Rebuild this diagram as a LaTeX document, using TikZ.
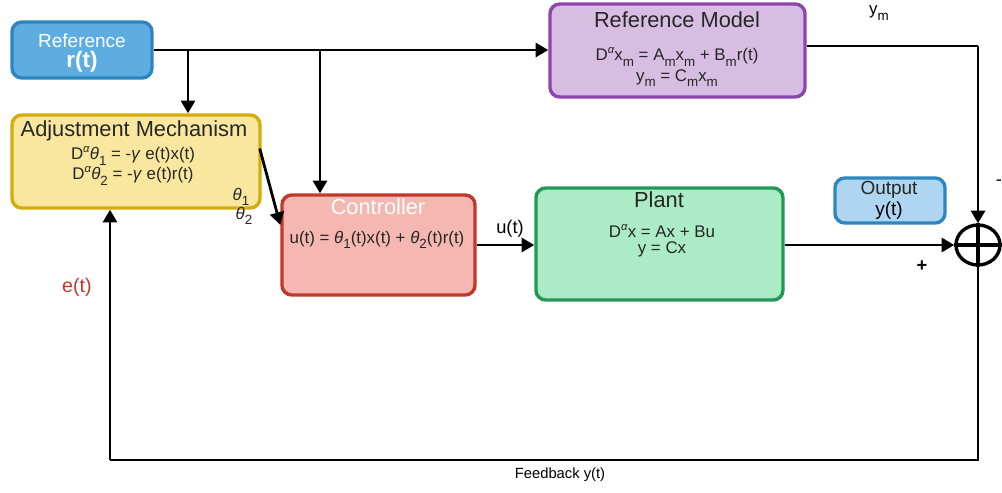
\documentclass[tikz,border=0pt]{standalone}
\usepackage{fontspec}
\setmainfont{Liberation Sans}
\usetikzlibrary{arrows.meta,calc,shapes.geometric}

\definecolor{refFill}{HTML}{5DADE2}
\definecolor{refLine}{HTML}{2E86C1}
\definecolor{adjFill}{HTML}{F9E79F}
\definecolor{adjLine}{HTML}{D4AC0D}
\definecolor{rmFill}{HTML}{D7BDE2}
\definecolor{rmLine}{HTML}{8E44AD}
\definecolor{ctlFill}{HTML}{F5B7B1}
\definecolor{ctlLine}{HTML}{C0392B}
\definecolor{plFill}{HTML}{ABEBC6}
\definecolor{plLine}{HTML}{229954}
\definecolor{outFill}{HTML}{AED6F1}
\definecolor{errRed}{HTML}{C0392B}

% low, fairly large subscripts
\newcommand{\sub}[1]{\raisebox{-0.6ex}{\fontsize{9.5}{10}\selectfont #1}}
\newcommand{\thet}{\textit{θ}}
\newcommand{\Dal}{D\raisebox{0.8ex}{\fontsize{8}{9}\selectfont\textit{α}}}

\tikzset{
  blk/.style={draw, line width=2.4pt, rounded corners=7pt, inner sep=0pt},
  wire/.style={line width=2pt, black},
  arr/.style={wire, -{Triangle[width=10pt,length=9pt]}},
  ttl/.style={font=\fontsize{15.5}{17}\selectfont, text=black!85},
  eqn/.style={font=\fontsize{12}{13}\selectfont, text=black!85, inner sep=0pt},
  lbl/.style={font=\fontsize{13}{14}\selectfont, inner sep=0pt},
}

\begin{document}
\begin{tikzpicture}[x=0.025cm, y=-0.025cm]
\useasboundingbox[fill=white] (0,0) rectangle (1002,493);

% blocks
\node[blk, fill=refFill, draw=refLine, minimum width=3.5cm, minimum height=1.4cm] (ref) at (82,50) {};
\node[blk, fill=adjFill, draw=adjLine, minimum width=6.2cm, minimum height=2.325cm] (adj) at (136,161.5) {};
\node[blk, fill=rmFill, draw=rmLine, minimum width=6.375cm, minimum height=2.325cm] (rm) at (677.5,50.5) {};
\node[blk, fill=ctlFill, draw=ctlLine, minimum width=4.825cm, minimum height=2.5cm] (ctl) at (378.5,245) {};
\node[blk, fill=plFill, draw=plLine, minimum width=6.175cm, minimum height=2.8cm] (pl) at (659.5,244) {};
\node[blk, fill=outFill, draw=refLine, minimum width=2.75cm, minimum height=1.125cm] (out) at (890,200.5) {};
\node[draw, ellipse, line width=2.4pt, minimum width=1.1cm, minimum height=1.0cm, inner sep=0pt] (sum) at (978,245) {};
\draw[line width=2.4pt] (sum.west) -- (sum.east);
\draw[line width=2.4pt] (sum.north) -- (sum.south);

% block texts
\node[text=white, font=\fontsize{13.5}{14}\selectfont, inner sep=0pt] (refT) at (82,41) {Reference};
\node[text=white, font=\bfseries\fontsize{16}{17}\selectfont, inner sep=0pt] (refV) at (82,62) {r(t)};

\node[ttl] (adjT) at (134,131) {Adjustment Mechanism};
\node[eqn] (adjE1) at (133,156) {\Dal\thet\sub{1} = -\textit{γ} e(t)x(t)};
\node[eqn] (adjE2) at (133,176) {\Dal\thet\sub{2} = -\textit{γ} e(t)r(t)};

\node[ttl] (rmT) at (677,20) {Reference Model};
\node[eqn] (rmE1) at (677,57) {\Dal x\sub{m} = A\sub{m}x\sub{m} + B\sub{m}r(t)};
\node[eqn] (rmE2) at (677,78) {y\sub{m} = C\sub{m}x\sub{m}};

\node[ttl, text=white] (ctlT) at (378,207) {Controller};
\node[eqn] (ctlE) at (377,240) {u(t) = \thet\sub{1}(t)x(t) + \thet\sub{2}(t)r(t)};

\node[ttl] (plT) at (659,200) {Plant};
\node[eqn] (plE1) at (662,231) {\Dal x = Ax + Bu};
\node[eqn] (plE2) at (662,249) {y = Cx};

\node[ttl, font=\fontsize{13.5}{14}\selectfont, inner sep=0pt] (outT) at (889,190) {Output};
\node[ttl, font=\fontsize{13.5}{14}\selectfont, inner sep=0pt, text=black] (outV) at (889,211) {y(t)};

% connectors
\draw[arr] (ref.east) -- (rm.west |- ref.east);
\coordinate (b1) at (188,50);
\coordinate (b2) at (320,50);
\draw[arr] (b1) -- (b1 |- adj.north);
\draw[arr] (b2) -- (b2 |- ctl.north);

\coordinate (ym) at (978,46);
\draw[wire] (rm.east |- ym) -- (ym);
\draw[arr] (ym) -- (sum.north);

\draw[arr] (pl.east |- sum.west) -- (sum.west);
\draw[arr] (ctl.east) -- (pl.west |- ctl.east);
\draw[arr] ($(adj.east)+(-2,-13)$) -- ($(ctl.west)+(0,-20)$);

\coordinate (fr) at (978,460);
\coordinate (fl) at (110,460);
\draw[wire] (sum.south) -- (fr) -- (fl);
\draw[arr] (fl) -- (fl |- adj.south);

% labels
\node[lbl, font=\fontsize{12}{13}\selectfont] (ymL) at (879,13) {y\sub{m}};
\node[lbl] (minusL) at (999,183) {-};
\node[lbl, font=\bfseries\fontsize{13}{14}\selectfont] (plusL) at (922,266) {+};
\node[lbl] (uL) at (510,229) {u(t)};
\node[lbl, font=\fontsize{14}{15}\selectfont, text=errRed] (eL) at (77,287) {e(t)};
\node[lbl, font=\fontsize{10.5}{12}\selectfont] (fbL) at (560,475) {Feedback y(t)};
\node[eqn] (th1L) at (241,197) {\thet\sub{1}};
\node[eqn] (th2L) at (244,216) {\thet\sub{2}};
\end{tikzpicture}
\end{document}
